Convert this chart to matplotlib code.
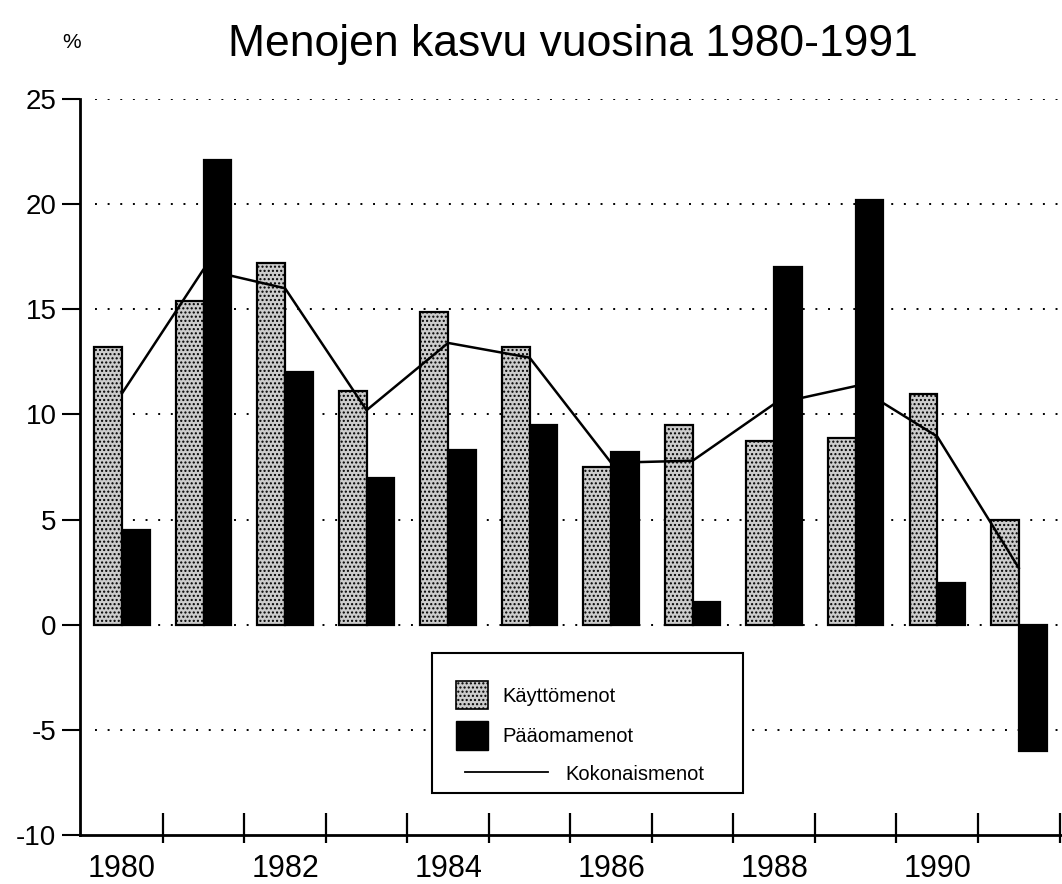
import matplotlib
matplotlib.use("Agg")
import matplotlib.pyplot as plt
import numpy as np
from matplotlib.patches import Patch, Rectangle
from matplotlib.lines import Line2D

plt.rcParams['font.family'] = ['Liberation Sans', 'DejaVu Sans']

years = [1980, 1981, 1982, 1983, 1984, 1985, 1986, 1987, 1988, 1989, 1990, 1991]
kayttomenot = [13.2, 15.4, 17.2, 11.1, 14.85, 13.2, 7.5, 9.5, 8.75, 8.9, 10.95, 5.0]
paaomamenot = [4.5, 22.1, 12.0, 7.0, 8.3, 9.5, 8.2, 1.1, 17.0, 20.2, 2.0, -6.0]
kokonaismenot = [11.0, 16.9, 16.0, 10.2, 13.4, 12.7, 7.7, 7.8, 10.5, 11.35, 8.95, 2.7]
yticks = [-10, -5, 0, 5, 10, 15, 20, 25]
xlabels = ['1980', '', '1982', '', '1984', '', '1986', '', '1988', '', '1990', '']
series_labels = ['Käyttömenot', 'Pääomamenot', 'Kokonaismenot']

LIGHT = '#cccccc'

W, H = 1062, 884
fig = plt.figure(figsize=(W / 100, H / 100), dpi=100)
ax = fig.add_axes([80 / W, (H - 835) / H, (1062 - 80) / W, (835 - 99) / H])

x = np.arange(len(years))
bw = 0.34
ax.bar(x - bw / 2, kayttomenot, width=bw, facecolor=LIGHT, edgecolor='black',
       hatch='....', linewidth=1.6, zorder=3)
ax.bar(x + bw / 2, paaomamenot, width=bw, facecolor='black', edgecolor='black',
       linewidth=1.6, zorder=3)
ax.plot(x, kokonaismenot, color='black', linewidth=1.8, zorder=4)

ax.set_xlim(-0.515, 11.53)
ax.set_ylim(-10, 25)
ax.set_yticks(yticks)
ax.set_yticklabels([str(v) for v in yticks], fontsize=20)
for v in yticks[1:]:
    ax.axhline(v, xmin=0.015, xmax=1, color='black', linestyle=(0, (1, 5.5)),
               linewidth=1.4, zorder=1)

ax.set_xticks(x)
ax.set_xticklabels(xlabels, fontsize=22)
ax.tick_params(axis='x', which='major', length=0, pad=14)
# group separator ticks crossing the x axis (more above than below)
ax.vlines(x + 0.5, -8 / 736, 22 / 736, transform=ax.get_xaxis_transform(),
          colors='black', linewidth=1.6, clip_on=False, zorder=5)
ax.tick_params(axis='y', which='major', direction='out', length=13, width=1.5, pad=4)

for s in ['top', 'right']:
    ax.spines[s].set_visible(False)
ax.spines['left'].set_linewidth(2)
ax.spines['bottom'].set_linewidth(2)

fig.text(573 / W, 1 - 56 / H, 'Menojen kasvu vuosina 1980-1991', fontsize=32,
         ha='center', va='baseline')
fig.text(72 / W, 1 - 43 / H, '%', fontsize=15, ha='center', va='center')

# legend frame
fig.patches.append(Rectangle((432 / W, 1 - 793 / H), (743 - 432) / W, (793 - 653) / H,
                             transform=fig.transFigure, facecolor='white',
                             edgecolor='black', linewidth=1.5, zorder=4))

fs = 14.5
leg1 = fig.legend(
    [Patch(facecolor=LIGHT, edgecolor='black', hatch='....', linewidth=1.2),
     Patch(facecolor='black', edgecolor='black')],
    series_labels[:2], loc='upper left',
    bbox_to_anchor=(456 / W, 1 - 681 / H), fontsize=fs, frameon=False,
    borderpad=0, borderaxespad=0, labelspacing=0.6, handlelength=1.6,
    handleheight=1.79, handletextpad=0.7)
leg1.set_zorder(6)
leg2 = fig.legend(
    [Line2D([0], [0], color='black', linewidth=1.3)], series_labels[2:],
    loc='center left', bbox_to_anchor=(465 / W, 1 - 774 / H), fontsize=fs,
    frameon=False, borderpad=0, borderaxespad=0, handlelength=4.1,
    handletextpad=0.9)
leg2.set_zorder(6)

fig.savefig('out.png', dpi=100)
